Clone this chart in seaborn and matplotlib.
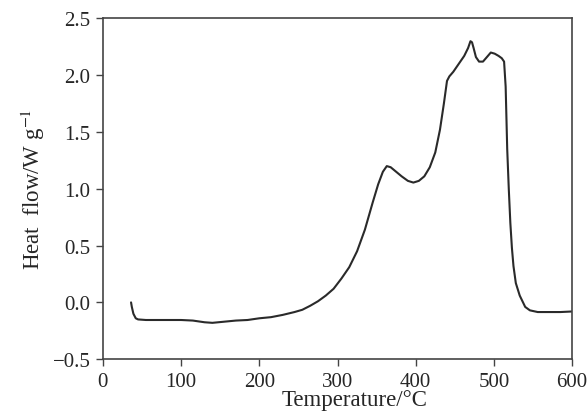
import seaborn as sns
import matplotlib.pyplot as plt
import pandas as pd

# DSC curve
temperature = [36, 37, 39, 42, 45, 55, 70, 85, 100, 115, 130, 140, 155, 170, 185,
               200, 215, 230, 245, 255, 265, 275, 285, 295, 305, 315, 325, 335,
               345, 352, 358, 363, 368, 375, 382, 390, 397, 404, 411, 418, 425,
               431, 436, 440, 443, 448, 455, 462, 467, 470, 472, 474, 477, 481,
               486, 491, 496, 501, 506, 510, 513, 515, 517, 519, 521, 523, 525,
               528, 533, 540, 546, 556, 570, 585, 600]
heat_flow = [0.0, -0.04, -0.10, -0.14, -0.15, -0.155, -0.155, -0.155, -0.155,
             -0.16, -0.175, -0.18, -0.17, -0.16, -0.155, -0.14, -0.13, -0.11,
             -0.085, -0.065, -0.03, 0.01, 0.06, 0.12, 0.21, 0.31, 0.45, 0.64,
             0.88, 1.04, 1.15, 1.20, 1.19, 1.15, 1.11, 1.07, 1.055, 1.07, 1.11,
             1.19, 1.32, 1.52, 1.75, 1.95, 1.99, 2.03, 2.10, 2.17, 2.24, 2.30,
             2.29, 2.24, 2.16, 2.12, 2.12, 2.16, 2.20, 2.19, 2.17, 2.15, 2.12,
             1.9, 1.35, 1.0, 0.70, 0.48, 0.32, 0.17, 0.06, -0.04, -0.07, -0.085,
             -0.085, -0.085, -0.08]

df = pd.DataFrame({'T': temperature, 'HF': heat_flow})

sns.set_style('ticks')
plt.rcParams['font.family'] = ['Liberation Serif', 'DejaVu Serif']
plt.rcParams['mathtext.fontset'] = 'stix'

fig = plt.figure(figsize=(5.88, 4.14), dpi=100)
ax = fig.add_axes([0.175, 0.130, 0.798, 0.823])
sns.lineplot(data=df, x='T', y='HF', ax=ax, color='#2a2a2a', linewidth=1.5,
             estimator=None, sort=False)

ax.set_xlim(0, 600)
ax.set_ylim(-0.5, 2.5)
ax.set_xticks([0, 100, 200, 300, 400, 500, 600])
ax.set_yticks([-0.5, 0.0, 0.5, 1.0, 1.5, 2.0, 2.5])
ax.set_yticklabels(['\u22120.5', '0.0', '0.5', '1.0', '1.5', '2.0', '2.5'])
ax.tick_params(direction='out', length=5, width=1, labelsize=15, color='#444444', pad=4)
for s in ax.spines.values():
    s.set_color('#444444')
    s.set_linewidth(1.2)
ax.set_xlabel('Temperature/\u00b0C', fontsize=16.5, labelpad=-1, x=0.537)
ax.set_ylabel('Heat  flow/W g$^{\\mathrm{-1}}$', fontsize=16.5, labelpad=4)

fig.savefig('out.png', dpi=100)
